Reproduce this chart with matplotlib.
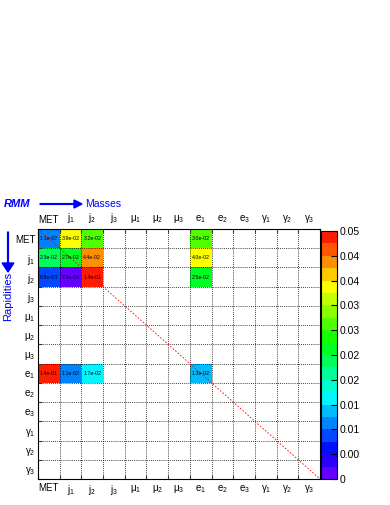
import numpy as np
import matplotlib
matplotlib.use('Agg')
import matplotlib.pyplot as plt
from matplotlib.colors import ListedColormap, hsv_to_rgb

plt.rcParams['font.family'] = ['Liberation Sans', 'DejaVu Sans']
plt.rcParams['mathtext.default'] = 'regular'

# objects of the rapidity-mass matrix
labels = ['MET', '$j_1$', '$j_2$', '$j_3$', r'$\mu_1$', r'$\mu_2$', r'$\mu_3$',
          '$e_1$', '$e_2$', '$e_3$', r'$\gamma_1$', r'$\gamma_2$', r'$\gamma_3$']

# non-empty cells (row, column, value)
cell_rows = [0, 0, 0, 0, 1, 1, 1, 1, 2, 2, 2, 2, 7, 7, 7, 7]
cell_cols = [0, 1, 2, 7, 0, 1, 2, 7, 0, 1, 2, 7, 0, 1, 2, 7]
cell_vals = [1.1e-02, 3.9e-02, 3.2e-02, 3.0e-02,
             2.3e-02, 2.7e-02, 4.4e-02, 4.0e-02,
             8.8e-03, 7.9e-04, 1.4e-01, 2.5e-02,
             1.4e-01, 1.1e-02, 1.7e-02, 1.3e-02]

cbar_ticks = [0, 0.005, 0.01, 0.015, 0.02, 0.025, 0.03, 0.035, 0.04, 0.045, 0.05]
cbar_ticklabels = ['0', '0.005', '0.01', '0.015', '0.02', '0.025', '0.03',
                   '0.035', '0.04', '0.045', '0.05']

n = len(labels)
mat = np.zeros((n, n))
for r, c, v in zip(cell_rows, cell_cols, cell_vals):
    mat[r, c] = v
masked = np.ma.masked_where(mat == 0, mat)

# old ROOT-like rainbow palette, 20 steps purple -> red
nlev = 20
hues = (270 * (1 - (np.arange(nlev) + 0.5) / nlev)) / 360.0
cols = [hsv_to_rgb((h, 1, 1)) for h in hues]
cmap = ListedColormap(cols)
cmap.set_over(cols[-1])
cmap.set_bad('white')

fig = plt.figure(figsize=(3.9, 5.05), dpi=100)
ax = fig.add_axes([38/390, 26/505, 282/390, 250/505])
cax = fig.add_axes([321/390, 26/505, 16/390, 248/505])

im = ax.pcolormesh(np.arange(n+1), np.arange(n+1), masked, cmap=cmap,
                   vmin=0, vmax=0.05)
ax.set_xlim(0, n)
ax.set_ylim(n, 0)

for r, c, v in zip(cell_rows, cell_cols, cell_vals):
    ax.text(c + 0.5, r + 0.5, '%.1e' % v, ha='center', va='center', fontsize=3.8)

# dotted grid
for k in range(1, n):
    ax.axvline(k, color='black', ls=(0, (1, 1.5)), lw=0.6)
    ax.axhline(k, color='black', ls=(0, (1, 1.5)), lw=0.6)

ax.plot([0, n], [0, n], color='red', ls=(0, (2, 2)), lw=0.6)

ax.set_xticks(np.arange(n) + 0.5)
ax.set_xticklabels(labels)
ax.set_yticks(np.arange(n) + 0.5)
ax.set_yticklabels(labels)
ax.tick_params(which='major', length=0, labelsize=7, labeltop=True, pad=2)
ax.tick_params(axis='x', which='major', pad=3)
ax.set_xticks(np.arange(n+1), minor=True)
ax.set_yticks(np.arange(n+1), minor=True)
ax.tick_params(which='minor', direction='in', length=3, width=0.8, color='#555555',
               top=True, bottom=True, left=True, right=False)

cb = fig.colorbar(im, cax=cax, extend='neither')
cb.set_ticks(cbar_ticks)
cb.set_ticklabels(cbar_ticklabels)
cax.tick_params(direction='in', length=4, labelsize=7.5, pad=2)

# ROOT pad clips the palette labels
fig.patches.append(matplotlib.patches.Rectangle(
    (360/390, 0), 30/390, 1, color='white', transform=fig.transFigure,
    figure=fig, zorder=10))

# annotations
ya = 1 - 204/505
fig.text(4/390, ya, 'RMM', color='blue', fontsize=8, fontweight='bold',
         fontstyle='italic', va='center')
fig.patches.append(matplotlib.patches.FancyArrow(
    40/390, ya, 34/390, 0, width=0.0015, head_width=0.016, head_length=8/390,
    color='blue', transform=fig.transFigure, figure=fig))
fig.text(85/390, ya, 'Masses', color='blue', fontsize=7.5, va='center')
fig.patches.append(matplotlib.patches.FancyArrow(
    8/390, 1 - 232/505, 0, -31/505, width=0.002, head_width=0.03, head_length=9/505,
    color='blue', transform=fig.transFigure, figure=fig))
fig.text(8/390, 1 - 296/505, 'Rapidities', color='blue', fontsize=8, rotation=90,
         ha='center', va='center')

fig.savefig('out.png', dpi=100)
